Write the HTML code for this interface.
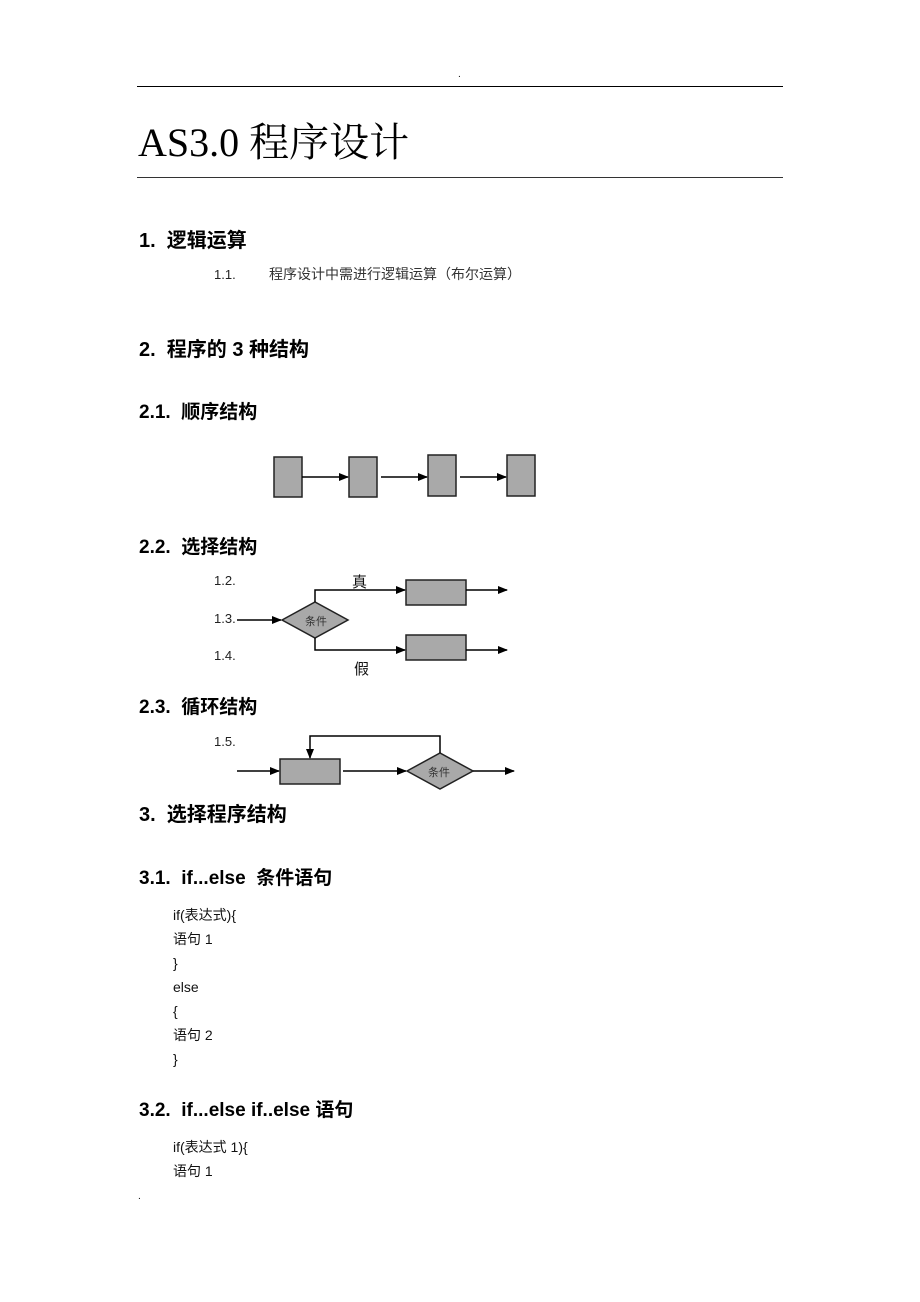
<!DOCTYPE html>
<html><head><meta charset="utf-8"><style>
body{margin:0;width:920px;height:1302px;background:#fff;position:relative;overflow:hidden;font-family:"Liberation Sans","Noto Sans CJK SC",sans-serif;color:#000}
.t{position:absolute;white-space:nowrap;line-height:1}
.h{font-weight:bold;font-size:20px}
.h2{font-weight:bold;font-size:19px}
.c{font-size:14px;color:#111}
.s{font-size:13px;color:#222}
</style></head><body>
<div class="t" style="left:458px;top:70px;font-size:10px">.</div>
<div style="position:absolute;left:137px;top:86px;width:646px;height:1px;background:#000"></div>
<div class="t" style="left:138px;top:123px;font-size:40px;font-family:'Liberation Serif','Noto Serif CJK SC',serif">AS3.0 程序设计</div>
<div style="position:absolute;left:137px;top:177px;width:646px;height:1px;background:#333"></div>

<div class="t h" style="left:139px;top:231px">1.&nbsp;&nbsp;逻辑运算</div>
<div class="t s" style="left:214px;top:268px">1.1.</div>
<div class="t" style="left:269px;top:267px;font-size:14px;color:#333">程序设计中需进行逻辑运算（布尔运算）</div>

<div class="t h" style="left:139px;top:340px">2.&nbsp;&nbsp;程序的 3 种结构</div>
<div class="t h2" style="left:139px;top:403px">2.1.&nbsp;&nbsp;顺序结构</div>
<div class="t h2" style="left:139px;top:538px">2.2.&nbsp;&nbsp;选择结构</div>
<div class="t s" style="left:214px;top:574px">1.2.</div>
<div class="t s" style="left:214px;top:612px">1.3.</div>
<div class="t s" style="left:214px;top:649px">1.4.</div>
<div class="t h2" style="left:139px;top:698px">2.3.&nbsp;&nbsp;循环结构</div>
<div class="t s" style="left:214px;top:735px">1.5.</div>
<div class="t h" style="left:139px;top:805px">3.&nbsp;&nbsp;选择程序结构</div>

<svg width="920" height="1302" style="position:absolute;left:0;top:0" xmlns="http://www.w3.org/2000/svg">
<defs><marker id="a" markerWidth="10" markerHeight="8" refX="9" refY="4" orient="auto" markerUnits="userSpaceOnUse"><path d="M0,0 L10,4 L0,8z" fill="#000"/></marker></defs>
<g fill="#a9a9a9" stroke="#222" stroke-width="1.5">
<rect x="274" y="457" width="28" height="40"/>
<rect x="349" y="457" width="28" height="40"/>
<rect x="428" y="455" width="28" height="41"/>
<rect x="507" y="455" width="28" height="41"/>
<rect x="406" y="580" width="60" height="25"/>
<rect x="406" y="635" width="60" height="25"/>
<polygon points="282,620 315,602 348,620 315,638"/>
<rect x="280" y="759" width="60" height="25"/>
<polygon points="407,771 440,753 473,771 440,789"/>
</g>
<g stroke="#000" stroke-width="1.5" fill="none" marker-end="url(#a)">
<line x1="302" y1="477" x2="348" y2="477"/>
<line x1="381" y1="477" x2="427" y2="477"/>
<line x1="460" y1="477" x2="506" y2="477"/>
<line x1="237" y1="620" x2="281" y2="620"/>
<polyline points="315,602 315,590 405,590"/>
<polyline points="315,638 315,650 405,650"/>
<line x1="466" y1="590" x2="507" y2="590"/>
<line x1="466" y1="650" x2="507" y2="650"/>
<line x1="237" y1="771" x2="279" y2="771"/>
<line x1="343" y1="771" x2="406" y2="771"/>
<line x1="473" y1="771" x2="514" y2="771"/>
<polyline points="440,753 440,736 310,736 310,758"/>
</g>
<g font-family="'Noto Sans CJK SC',sans-serif" fill="#333">
<text x="305" y="625" font-size="11">条件</text>
<text x="428" y="776" font-size="11">条件</text>
<text x="352" y="587" font-size="15" fill="#111">真</text>
<text x="354" y="674" font-size="15" fill="#111">假</text>
</g>
</svg>

<div class="t h2" style="left:139px;top:869px">3.1.&nbsp;&nbsp;if...else&nbsp; 条件语句</div>
<div class="t c" style="left:173px;top:908px">if(表达式){</div>
<div class="t c" style="left:173px;top:932px">语句 1</div>
<div class="t c" style="left:173px;top:956px">}</div>
<div class="t c" style="left:173px;top:980px">else</div>
<div class="t c" style="left:173px;top:1004px">{</div>
<div class="t c" style="left:173px;top:1028px">语句 2</div>
<div class="t c" style="left:173px;top:1052px">}</div>
<div class="t h2" style="left:139px;top:1101px">3.2.&nbsp;&nbsp;if...else if..else 语句</div>
<div class="t c" style="left:173px;top:1140px">if(表达式 1){</div>
<div class="t c" style="left:173px;top:1164px">语句 1</div>
<div class="t" style="left:138px;top:1192px;font-size:10px">.</div>
</body></html>
